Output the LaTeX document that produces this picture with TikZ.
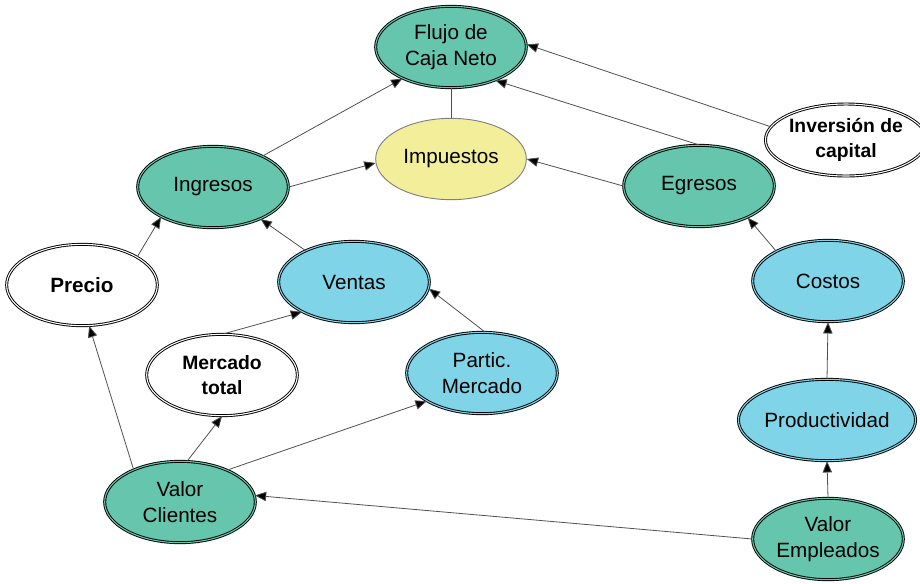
\documentclass[tikz,border=0pt]{standalone}
\usepackage{fontspec}
\setmainfont{Liberation Sans}
\usetikzlibrary{shapes.geometric,arrows.meta}
\definecolor{teal1}{HTML}{66C6AD}
\definecolor{blue1}{HTML}{80D4E8}
\definecolor{yell1}{HTML}{F2EE99}
\definecolor{lin}{HTML}{505050}
\tikzset{
  ell/.style={ellipse, inner sep=0pt, minimum width=113pt, minimum height=61pt,
    align=center, font=\fontsize{15.5}{19}\selectfont, draw=black, line width=0.7pt},
  dbl/.style={ell, double distance=0.8pt},
  tnode/.style={dbl, fill=teal1, double=teal1},
  bnode/.style={dbl, fill=blue1, double=blue1},
  wnode/.style={dbl, fill=white, double=white, font=\fontsize{14.5}{19}\selectfont\bfseries},
  ynode/.style={ell, fill=yell1, draw=gray, line width=0.7pt},
  conn/.style={draw=lin, line width=0.6pt, -{Triangle[length=8.5pt,width=7pt,fill=black]}},
  plain/.style={draw=lin, line width=0.6pt}
}
\begin{document}
\begin{tikzpicture}[x=0.75pt,y=-0.75pt]
\useasboundingbox (0,0) rectangle (920,583);
\node[tnode] (flu) at (451,47) {Flujo de\\Caja Neto};
\node[ynode] (imp) at (451,159) {Impuestos};
\node[tnode] (ing) at (213,187) {Ingresos};
\node[tnode] (egr) at (699,186) {Egresos};
\node[wnode, minimum width=110pt, minimum height=54pt] (inv) at (846,140) {Inversión de\\capital};
\node[wnode, font=\fontsize{15.5}{19}\selectfont\bfseries] (pre) at (82,285) {Precio};
\node[bnode] (ven) at (354,282) {Ventas};
\node[wnode] (mt) at (222,375) {Mercado\\total};
\node[bnode] (par) at (482,373) {Partic.\\Mercado};
\node[bnode] (cos) at (828,281) {Costos};
\node[bnode, minimum width=128pt] (pro) at (827,420) {Productividad};
\node[tnode] (vcl) at (180,502) {Valor\\Clientes};
\node[tnode] (vem) at (828,539) {Valor\\Empleados};

\draw[conn] (ing.32) -- (flu.213);
\draw[conn] (ing.0) -- (imp.183);
\draw[plain] (imp.north) -- (flu.south);
\draw[conn] (egr.180) -- (imp.0);
\draw[conn] (egr.north) -- (flu.-37);
\draw[conn] (inv.170) -- (flu.2);
\draw[conn] (pre.27) -- (ing.210);
\draw[conn] (ven.147) -- (ing.-34);
\draw[conn] (mt.88) -- (ven.210);
\draw[conn] (par.86) -- (ven.-5);
\draw[conn] (vcl.145) -- (pre.-80);
\draw[conn] (vcl.80) -- (mt.south);
\draw[conn] (vcl.34) -- (par.207);
\draw[conn] (vem.180) -- (vcl.5);
\draw[conn] (vem.north) -- (pro.south);
\draw[conn] (pro.north) -- (cos.south);
\draw[conn] (cos.150) -- (egr.-33);
\end{tikzpicture}
\end{document}
